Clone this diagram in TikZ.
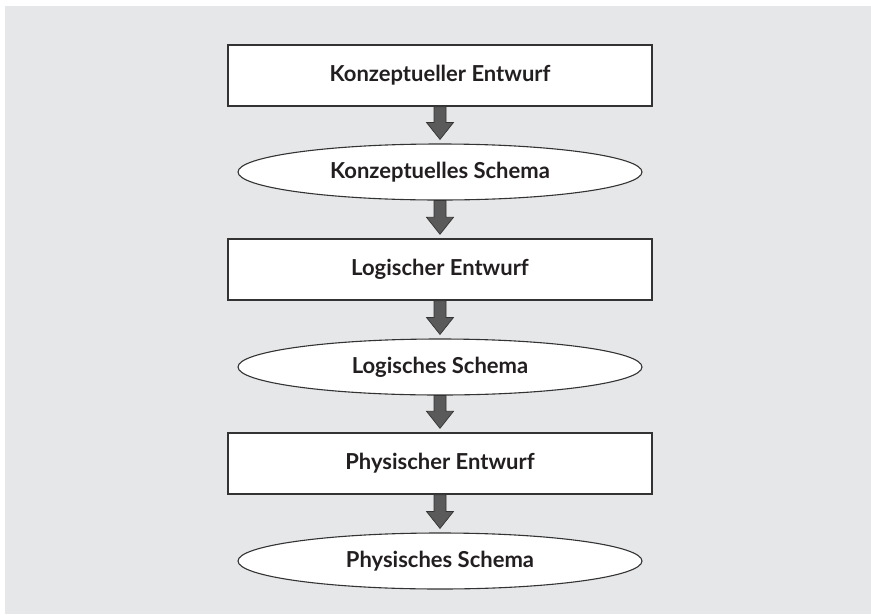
\documentclass[tikz,border=0pt]{standalone}
\usepackage{fontspec}
\setmainfont{Lato}
\usetikzlibrary{shapes.geometric,calc}
\definecolor{panel}{HTML}{E6E7E8}
\definecolor{ink}{HTML}{231F20}
\definecolor{edge}{HTML}{333333}
\definecolor{arrowfill}{HTML}{5A5A5A}
\tikzset{
  labelfont/.style={font=\fontsize{22}{26}\selectfont\bfseries, text=ink},
  stage/.style={draw=edge, line width=1.4pt, fill=white, minimum width=424pt,
    minimum height=61pt, inner sep=0pt, labelfont},
  result/.style={ellipse, draw=edge, line width=1.1pt, fill=white, minimum width=404pt,
    minimum height=56pt, inner sep=0pt, labelfont},
  blockarrow/.style={draw=edge, line width=0.7pt, fill=arrowfill, line join=miter}
}
% downward block arrow from the bottom of #1 to just above the top of #2
\newcommand\flowarrow[2]{%
  \draw[blockarrow] let \p1=(#1.south), \p2=(#2.north) in
    (\x1-6pt,\y1) -- (\x1-6pt,\y2+21pt) -- (\x1-13.5pt,\y2+21pt) --
    (\x1,\y2+4pt) -- (\x1+13.5pt,\y2+21pt) -- (\x1+6pt,\y2+21pt) --
    (\x1+6pt,\y1) -- cycle;}
\begin{document}
\begin{tikzpicture}[x=1pt,y=-1pt]
  \useasboundingbox (0,0) rectangle (871,614);
  \fill[white] (0,0) rectangle (871,614);
  \fill[panel] (5,6) rectangle (871,614);

  \node[stage]  (ce) at (440,75.5)  {Konzeptueller Entwurf};
  \node[result] (cs) at (440,172)   {Konzeptuelles Schema};
  \node[stage]  (le) at (440,269.5) {Logischer Entwurf};
  \node[result] (ls) at (440,367)   {Logisches Schema};
  \node[stage]  (pe) at (440,463.5) {Physischer Entwurf};
  \node[result] (ps) at (440,561)   {Physisches Schema};

  \flowarrow{ce}{cs}
  \flowarrow{cs}{le}
  \flowarrow{le}{ls}
  \flowarrow{ls}{pe}
  \flowarrow{pe}{ps}
\end{tikzpicture}
\end{document}
